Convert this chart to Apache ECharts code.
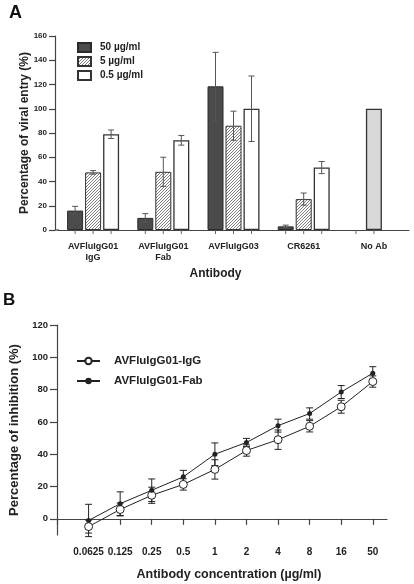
<!DOCTYPE html>
<html>
<head>
<meta charset="utf-8">
<script src="https://cdn.jsdelivr.net/npm/echarts@6/dist/echarts.min.js"></script>
<style>
html,body{margin:0;padding:0;background:#fff;}
#chart{width:414px;height:584px;}
</style>
</head>
<body>
<div id="chart"></div>
<script>
// ---------- Panel A data ----------
var antibodies = ['AVFluIgG01\nIgG', 'AVFluIgG01\nFab', 'AVFluIgG03', 'CR6261', 'No Ab'];
var barSeriesNames = ['50 µg/ml', '5 µg/ml', '0.5 µg/ml'];
var entry50 = [16, 10, 118.5, 3, null];
var entry50Err = [3.5, 3.5, 28, 1, null];
var entry5 = [47.5, 48, 86, 25.5, null];
var entry5Err = [1.5, 12, 12, 5, null];
var entry05 = [79, 74, 100, 51.5, null];
var entry05Err = [3.5, 4, 27, 5, null];
var noAb = [null, null, null, null, 100];
var entryTicks = [0, 20, 40, 60, 80, 100, 120, 140, 160];

// ---------- Panel B data ----------
var concLabels = ['0.0625', '0.125', '0.25', '0.5', '1', '2', '4', '8', '16', '50'];
var iggNames = ['AVFluIgG01-IgG', 'AVFluIgG01-Fab'];
var iggInhib = [-4.8, 5.8, 14.6, 21.3, 30.6, 42.3, 49, 57.3, 69.4, 85];
var iggErr = [4, 4, 5, 3.5, 6, 3.5, 6, 3.5, 4, 3.5];
var fabInhib = [-1, 9.4, 17.7, 26, 40, 47.3, 57.7, 65.2, 78.5, 90.2];
var fabErr = [10, 7.3, 7, 4, 7, 2.5, 4, 3.5, 4, 4];
var inhibTicks = [0, 20, 40, 60, 80, 100, 120];

var FONT = '"Liberation Sans", Arial, Helvetica, sans-serif';
var TXT = '#222';
var AX = '#444';

// hatch pattern
var hatch = document.createElement('canvas');
hatch.width = 3; hatch.height = 3;
var hc = hatch.getContext('2d');
hc.fillStyle = '#fff'; hc.fillRect(0, 0, 3, 3);
hc.strokeStyle = '#707070'; hc.lineWidth = 0.9;
hc.beginPath();
hc.moveTo(0, 3); hc.lineTo(3, 0);
hc.moveTo(-1, 1); hc.lineTo(1, -1);
hc.moveTo(2, 4); hc.lineTo(4, 2);
hc.stroke();
var hatchFill = {image: hatch, repeat: 'repeat'};

var BAR_W = 16, BAR_STRIDE = 18; // barGap 12.5% of 16 = 2

// error bar data for panel A: [cat, value, err, slot]
var errA = [];
[entry50, entry5, entry05].forEach(function (arr, s) {
  var errs = [entry50Err, entry5Err, entry05Err][s];
  arr.forEach(function (v, i) { if (v != null) errA.push([i, v, errs[i], s]); });
});
// tick positions under each bar: [cat, slot]
var tickA = [];
antibodies.forEach(function (a, i) {
  if (i < 4) { tickA.push([i, 0]); tickA.push([i, 1]); tickA.push([i, 2]); }
  else { tickA.push([i, 0]); tickA.push([i, 1]); }
});

function pairs(arr) { return arr.map(function (v, i) { return [i + 1, v]; }); }
function errPairs(vals, errs) { return vals.map(function (v, i) { return [i + 1, v, errs[i]]; }); }

var chart = echarts.init(document.getElementById('chart'), null, {renderer: 'canvas'});

var option = {
  animation: false,
  backgroundColor: '#fff',
  textStyle: {fontFamily: FONT, color: TXT},
  graphic: [
    {type: 'text', left: 9, top: 4, style: {text: 'A', font: 'bold 18px ' + FONT, fill: '#111'}},
    {type: 'text', left: 3, top: 292, style: {text: 'B', font: 'bold 17px ' + FONT, fill: '#111'}},
    // extend panel A baseline to the y axis
    {type: 'line', shape: {x1: 55, y1: 230, x2: 59, y2: 230}, style: {stroke: AX, lineWidth: 1.2}}
  ],
  legend: [
    {
      data: barSeriesNames,
      orient: 'vertical', left: 72, top: 37, itemGap: 3,
      itemWidth: 13, itemHeight: 9, icon: 'rect',
      textStyle: {fontFamily: FONT, fontWeight: 'bold', fontSize: 10, color: TXT, padding: [0, 0, 0, 4]}
    },
    {
      data: iggNames,
      orient: 'vertical', left: 71, top: 350, itemGap: 8,
      itemWidth: 23, itemHeight: 8,
      textStyle: {fontFamily: FONT, fontWeight: 'bold', fontSize: 11.5, color: TXT, padding: [0, 0, 0, 9]}
    }
  ],
  grid: [
    {left: 58, top: 36, width: 351, height: 194, containLabel: false},
    {left: 55, top: 325, width: 332, height: 210, containLabel: false}
  ],
  xAxis: [
    {
      gridIndex: 0, type: 'category', data: antibodies,
      axisLine: {lineStyle: {color: AX, width: 1.2}},
      axisTick: {show: false},
      axisLabel: {margin: 11, fontFamily: FONT, fontWeight: 'bold', fontSize: 9, color: TXT, lineHeight: 11, interval: 0},
      name: 'Antibody', nameLocation: 'middle', nameGap: 38, nameMoveOverlap: false,
      nameTextStyle: {fontFamily: FONT, fontWeight: 'bold', fontSize: 12, color: TXT, padding: [0, 36, 0, 0]}
    },
    {
      gridIndex: 1, type: 'value', min: 0, max: 10.45,
      axisLine: {lineStyle: {color: AX, width: 1.2}},
      axisTick: {show: true, length: 6, lineStyle: {color: AX, width: 1.2}, customValues: [0, 1, 2, 3, 4, 5, 6, 7, 8, 9, 10]},
      axisLabel: {margin: 12, fontFamily: FONT, fontWeight: 'bold', fontSize: 10, color: TXT,
        customValues: [1, 2, 3, 4, 5, 6, 7, 8, 9, 10],
        formatter: function (v) { return concLabels[Math.round(v) - 1] || ''; }},
      splitLine: {show: false},
      name: 'Antibody concentration (µg/ml)', nameLocation: 'middle', nameGap: 33, nameMoveOverlap: false,
      nameTextStyle: {fontFamily: FONT, fontWeight: 'bold', fontSize: 12.5, color: TXT, padding: [0, 0, 0, 14]}
    }
  ],
  yAxis: [
    {
      gridIndex: 0, type: 'value', min: 0, max: 160, interval: 20, offset: 3,
      axisLine: {show: true, lineStyle: {color: AX, width: 1.2}},
      axisTick: {show: true, length: 6, lineStyle: {color: AX, width: 1.2}},
      axisLabel: {margin: 8, fontFamily: FONT, fontWeight: 'bold', fontSize: 8, color: TXT,
        customValues: entryTicks},
      splitLine: {show: false},
      name: 'Percentage of viral entry (%)', nameLocation: 'middle', nameGap: 24, nameMoveOverlap: false,
      nameTextStyle: {fontFamily: FONT, fontWeight: 'bold', fontSize: 12, color: TXT}
    },
    {
      gridIndex: 1, type: 'value', min: -10, max: 120,
      axisLine: {show: true, lineStyle: {color: AX, width: 1.2}},
      axisTick: {show: true, length: 7, lineStyle: {color: AX, width: 1.2}, customValues: inhibTicks},
      axisLabel: {margin: 9, fontFamily: FONT, fontWeight: 'bold', fontSize: 9.5, color: TXT, customValues: inhibTicks},
      splitLine: {show: false},
      name: 'Percentage of inhibition (%)', nameLocation: 'middle', nameGap: 36, nameMoveOverlap: false,
      nameTextStyle: {fontFamily: FONT, fontWeight: 'bold', fontSize: 13, color: TXT}
    }
  ],
  series: [
    {
      name: barSeriesNames[0], type: 'bar', xAxisIndex: 0, yAxisIndex: 0,
      data: entry50.map(function (v) { return v == null ? '-' : v; }),
      barWidth: BAR_W, barGap: '12.5%',
      itemStyle: {color: '#4b4b4b', borderColor: '#2a2a2a', borderWidth: 1}
    },
    {
      name: barSeriesNames[1], type: 'bar', xAxisIndex: 0, yAxisIndex: 0, stack: 'mid',
      data: entry5.map(function (v) { return v == null ? '-' : v; }),
      barWidth: BAR_W, barGap: '12.5%',
      itemStyle: {color: hatchFill, borderColor: '#333', borderWidth: 1}
    },
    {
      name: 'No Ab', type: 'bar', xAxisIndex: 0, yAxisIndex: 0, stack: 'mid',
      data: noAb.map(function (v) { return v == null ? '-' : v; }),
      barWidth: BAR_W, barGap: '12.5%',
      itemStyle: {color: '#d9d9d9', borderColor: '#333', borderWidth: 1.3}
    },
    {
      name: barSeriesNames[2], type: 'bar', xAxisIndex: 0, yAxisIndex: 0,
      data: entry05.map(function (v) { return v == null ? '-' : v; }),
      barWidth: BAR_W, barGap: '12.5%',
      itemStyle: {color: '#ffffff', borderColor: '#333', borderWidth: 1.3}
    },
    {
      name: 'errA', type: 'custom', xAxisIndex: 0, yAxisIndex: 0, z: 5,
      data: errA,
      renderItem: function (params, api) {
        var c = api.value(0), v = api.value(1), e = api.value(2), s = api.value(3);
        var off = (s - 1) * BAR_STRIDE;
        var top = api.coord([c, v + e]);
        var bot = api.coord([c, v - e]);
        var x = top[0] + off;
        var style = {stroke: '#555', lineWidth: 1};
        return {type: 'group', children: [
          {type: 'line', shape: {x1: x, y1: top[1], x2: x, y2: bot[1]}, style: style},
          {type: 'line', shape: {x1: x - 3, y1: top[1], x2: x + 3, y2: top[1]}, style: style},
          {type: 'line', shape: {x1: x - 3, y1: bot[1], x2: x + 3, y2: bot[1]}, style: style}
        ]};
      }
    },
    {
      name: 'ticksA', type: 'custom', xAxisIndex: 0, yAxisIndex: 0, z: 5,
      data: tickA,
      renderItem: function (params, api) {
        var c = api.value(0), s = api.value(1);
        var p = api.coord([c, 0]);
        var x = p[0] + (s - 1) * BAR_STRIDE;
        return {type: 'line', shape: {x1: x, y1: p[1], x2: x, y2: p[1] + 4}, style: {stroke: '#666', lineWidth: 1}};
      }
    },
    {
      name: 'errIgG', type: 'custom', xAxisIndex: 1, yAxisIndex: 1, z: 3,
      data: errPairs(iggInhib, iggErr).concat(errPairs(fabInhib, fabErr)),
      renderItem: function (params, api) {
        var x0 = api.value(0), v = api.value(1), e = api.value(2);
        var top = api.coord([x0, v + e]);
        var bot = api.coord([x0, v - e]);
        var x = top[0];
        var style = {stroke: '#222', lineWidth: 1};
        return {type: 'group', children: [
          {type: 'line', shape: {x1: x, y1: top[1], x2: x, y2: bot[1]}, style: style},
          {type: 'line', shape: {x1: x - 3.5, y1: top[1], x2: x + 3.5, y2: top[1]}, style: style},
          {type: 'line', shape: {x1: x - 3.5, y1: bot[1], x2: x + 3.5, y2: bot[1]}, style: style}
        ]};
      }
    },
    {
      name: iggNames[0], type: 'line', xAxisIndex: 1, yAxisIndex: 1, z: 4,
      data: pairs(iggInhib),
      symbol: 'circle', symbolSize: 8, showAllSymbol: true,
      lineStyle: {color: '#222', width: 1},
      itemStyle: {color: '#fff', borderColor: '#222', borderWidth: 1}
    },
    {
      name: iggNames[1], type: 'line', xAxisIndex: 1, yAxisIndex: 1, z: 4,
      data: pairs(fabInhib),
      symbol: 'circle', symbolSize: 5, showAllSymbol: true,
      lineStyle: {color: '#222', width: 1},
      itemStyle: {color: '#222', borderColor: '#222', borderWidth: 0}
    }
  ]
};
chart.setOption(option);
</script>
</body>
</html>
